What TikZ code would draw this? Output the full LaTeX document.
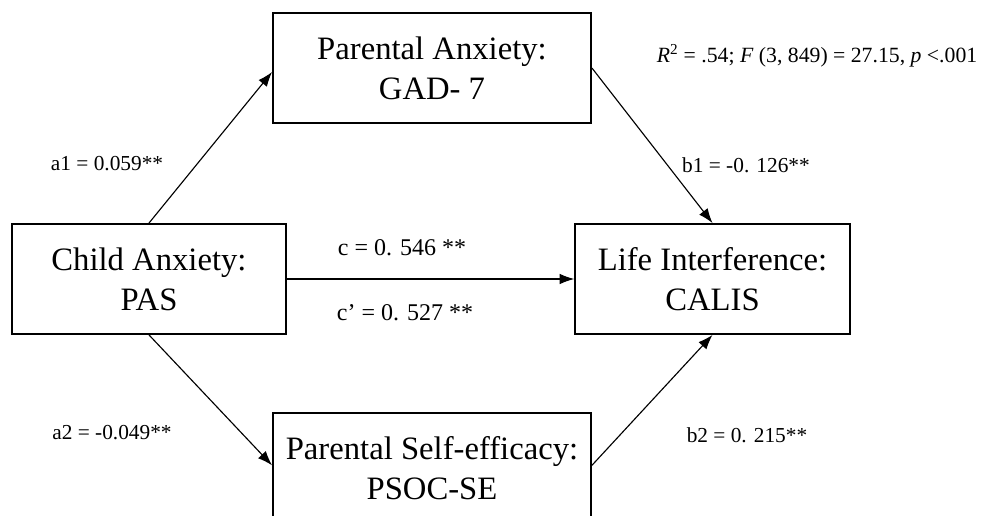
\documentclass[tikz,border=0pt]{standalone}
\usepackage{fontspec}
\setmainfont{Liberation Serif}
\usetikzlibrary{arrows.meta}

\begin{document}
\begin{tikzpicture}[
        x=0.75pt, y=-0.75pt,
        varbox/.style={
            draw,
            line width=1.4pt,
            align=center,
            inner sep=0pt,
            minimum height=82.5pt,
            font=\fontsize{24.5pt}{30pt}\selectfont
        },
        widebox/.style={varbox, minimum width=238.5pt},
        narrowbox/.style={varbox, minimum width=206pt},
        effect/.style={
            -{Latex[length=11pt, width=8pt]},
            line width=0.85pt
        },
        coeff/.style={font=\fontsize{16pt}{19pt}\selectfont},
        totalcoeff/.style={font=\fontsize{18pt}{21pt}\selectfont},
        modelfit/.style={font=\fontsize{16.3pt}{19pt}\selectfont}
    ]

    \useasboundingbox (0,0) rectangle (982,516);
    \clip (0,0) rectangle (982,516);

    \node[narrowbox] (child) at (149,279) {Child Anxiety:\\PAS};
    \node[widebox] (gad) at (432,68) {Parental Anxiety:\\GAD- 7};
    \node[narrowbox] (calis) at (712.5,279) {Life Interference:\\CALIS};
    \node[widebox] (psoc) at (432,468) {Parental Self-efficacy:\\PSOC-SE};

    \draw[effect] (child.north) -- ([yshift=-3pt]gad.west);
    \draw[effect] (gad.east) -- (calis.north);
    \draw[effect] (child) -- (calis);
    \draw[effect] (child.south) -- ([yshift=2pt]psoc.west);
    \draw[effect] ([yshift=2pt]psoc.east) -- (calis.south);

    \node[coeff] (a1) at (107,164) {a1 = 0.059**};
    \node[coeff] (a2) at (112,433) {a2 = -0.049**};
    \node[coeff] (b1) at (746,165) {b1 = -0. 126**};
    \node[coeff] (b2) at (747,435) {b2 = 0. 215**};
    \node[totalcoeff] (c) at (402,248) {c = 0. 546 **};
    \node[totalcoeff] (cprime) at (405,313) {c’ = 0. 527 **};
    \node[modelfit] (fit) at (817,56) {\textit{R}\textsuperscript{2} = .54; \textit{F} (3, 849) = 27.15, \textit{p} <.001};

\end{tikzpicture}
\end{document}
